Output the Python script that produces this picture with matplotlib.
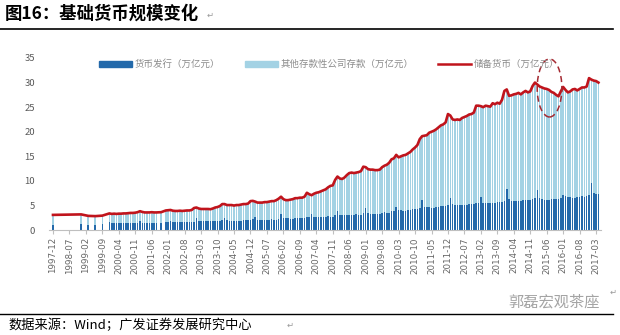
import numpy as np
import pandas as pd
import matplotlib
matplotlib.use("Agg")
import matplotlib.pyplot as plt
from matplotlib.patches import Patch, Ellipse
from matplotlib.lines import Line2D

plt.rcParams['font.family'] = ['Noto Sans CJK SC', 'DejaVu Sans']

nan = np.nan

# months 1997-12 .. 2017-04
months = pd.period_range("1997-12", "2017-04", freq="M")

# reserve money (万亿元), month by month; nan = no data that month
reserve = [3.1,
    # 1998
    nan, nan, nan, nan, nan, nan, nan, nan, nan, nan, nan, 3.2,
    # 1999
    nan, nan, 2.9, nan, nan, 2.85, nan, nan, 2.95, nan, nan, 3.4,
    # 2000
    3.3, 3.35, 3.3, 3.35, 3.35, 3.4, 3.4, 3.45, 3.5, 3.5, 3.55, 3.65,
    # 2001
    3.85, 3.7, 3.6, 3.6, 3.6, 3.65, 3.6, 3.6, nan, 3.65, nan, 4.0,
    # 2002
    4.05, 4.1, 3.95, 3.9, 3.9, 3.95, 3.9, 3.95, 4.0, 4.0, 4.1, 4.5,
    # 2003
    4.6, 4.4, 4.3, 4.3, 4.3, 4.3, 4.25, 4.4, 4.6, 4.7, 4.9, 5.3,
    # 2004
    5.3, 5.1, 5.1, 5.1, 5.0, 5.1, 5.1, 5.2, 5.3, 5.3, 5.4, 5.9,
    # 2005
    5.95, 5.8, 5.6, 5.6, 5.6, 5.7, 5.7, 5.8, 5.9, 5.9, 6.1, 6.4,
    # 2006
    6.8, 6.3, 6.1, 6.1, 6.2, 6.3, 6.5, 6.5, 6.6, 6.6, 6.8, 7.6,
    # 2007
    7.3, 7.1, 7.4, 7.6, 7.7, 7.9, 8.1, 8.3, 8.7, 9.0, 9.1, 10.2,
    # 2008
    10.9, 10.5, 10.4, 10.7, 11.2, 11.6, 11.7, 11.6, 11.7, 11.8, 12.0, 12.9,
    # 2009
    12.8, 12.4, 12.3, 12.3, 12.2, 12.2, 12.3, 12.8, 13.1, 13.3, 13.7, 14.4,
    # 2010
    14.6, 15.3, 14.8, 15.0, 15.2, 15.3, 15.6, 15.9, 16.4, 16.8, 17.3, 18.5,
    # 2011
    19.1, 19.2, 19.3, 19.8, 20.0, 20.2, 20.5, 20.9, 21.3, 21.5, 21.9, 23.6,
    # 2012
    23.3, 22.5, 22.4, 22.5, 22.4, 22.8, 23.0, 23.2, 23.5, 23.6, 23.9, 25.3,
    # 2013
    25.3, 25.2, 25.0, 25.3, 25.2, 25.1, 25.8, 25.6, 25.9, 25.7, 26.5, 28.3,
    # 2014
    28.6, 27.3, 27.4, 27.6, 27.7, 27.9, 27.6, 28.0, 28.3, 28.0, 28.2, 29.3,
    # 2015
    30.0, 29.6, 29.2, 29.0, 28.8, 28.7, 28.5, 28.1, 27.9, 27.5, 27.2, 28.2,
    # 2016
    29.1, 28.5, 28.0, 28.2, 28.6, 28.7, 28.4, 28.7, 29.0, 29.0, 29.2, 30.9,
    # 2017
    30.6, 30.4, 30.3, 30.0]

# currency issued (万亿元)
currency = [1.1,
    nan, nan, nan, nan, nan, nan, nan, nan, nan, nan, nan, 1.2,
    nan, nan, 1.1, nan, nan, 1.1, nan, nan, 1.2, nan, nan, 1.6,
    1.5, 1.45, 1.4, 1.4, 1.4, 1.4, 1.4, 1.4, 1.45, 1.45, 1.45, 1.5,
    1.8, 1.5, 1.45, 1.45, 1.45, 1.45, 1.45, 1.45, nan, 1.5, nan, 1.6,
    1.6, 1.9, 1.65, 1.6, 1.6, 1.6, 1.6, 1.6, 1.7, 1.65, 1.65, 1.75,
    2.4, 1.85, 1.8, 1.8, 1.8, 1.8, 1.8, 1.8, 1.9, 1.85, 1.85, 2.0,
    2.5, 2.0, 1.95, 1.95, 1.95, 1.95, 1.95, 1.95, 2.05, 2.0, 2.0, 2.15,
    2.2, 2.7, 2.1, 2.1, 2.05, 2.05, 2.1, 2.1, 2.2, 2.15, 2.15, 2.35,
    3.3, 2.45, 2.4, 2.4, 2.35, 2.35, 2.4, 2.4, 2.5, 2.5, 2.5, 2.7,
    2.6, 3.2, 2.65, 2.7, 2.6, 2.6, 2.65, 2.7, 2.8, 2.75, 2.75, 3.0,
    3.9, 3.15, 3.0, 3.05, 3.0, 3.0, 3.05, 3.1, 3.2, 3.15, 3.15, 3.4,
    4.6, 3.5, 3.35, 3.35, 3.3, 3.3, 3.35, 3.4, 3.6, 3.5, 3.55, 3.85,
    3.9, 4.75, 4.0, 4.0, 3.95, 3.95, 4.0, 4.1, 4.3, 4.2, 4.25, 4.5,
    6.1, 4.8, 4.65, 4.65, 4.6, 4.6, 4.65, 4.75, 4.9, 4.85, 4.9, 5.1,
    6.6, 5.3, 5.1, 5.1, 5.05, 5.05, 5.1, 5.2, 5.4, 5.3, 5.35, 5.6,
    5.5, 6.8, 5.6, 5.5, 5.45, 5.45, 5.5, 5.6, 5.8, 5.7, 5.75, 6.0,
    8.3, 6.3, 6.0, 6.0, 5.95, 5.95, 6.0, 6.05, 6.2, 6.15, 6.2, 6.4,
    6.5, 8.2, 6.5, 6.3, 6.2, 6.2, 6.2, 6.3, 6.4, 6.3, 6.35, 6.6,
    7.2, 7.0, 6.7, 6.65, 6.6, 6.6, 6.65, 6.7, 6.85, 6.8, 6.85, 7.2,
    9.6, 7.6, 7.4, 7.3]

labels = [p.strftime("%Y-%m") for p in months]
reserve = np.array(reserve)
currency = np.array(currency)
other = reserve - currency

dark = "#2369AA"
light = "#A3D2E4"
red = "#C0141C"

fig = plt.figure(figsize=(6.2, 3.35), dpi=100)
ax = fig.add_axes([0.079, 0.313, 0.890, 0.514])

x = np.arange(len(labels))
ax.bar(x, currency, width=0.68, color=dark, linewidth=0)
ax.bar(x, other, width=0.68, bottom=currency, color=light, linewidth=0)
ok = ~np.isnan(reserve)
ax.plot(x[ok], reserve[ok], color=red, lw=1.9, zorder=3)

# dashed circle around 2015
ax.add_patch(Ellipse((211.2, 28.9), 10.5, 11.8, fill=False, ls=(0, (4, 2.5)),
                     lw=1.1, ec="#A52A32", zorder=4))

ax.set_xlim(-1.7, 233)
ax.set_ylim(0, 35)
ax.set_yticks(range(0, 36, 5))
ax.set_xticks(x[::7])
ax.set_xticklabels(labels[::7], rotation=90, fontsize=6.3, color="#666666",
                   family="DejaVu Sans")
ax.tick_params(axis="y", length=0, labelsize=6.8, labelcolor="#595959", pad=10)
ax.tick_params(axis="x", length=3, color="#bfbfbf", pad=2)
for s in ["top", "right", "left"]:
    ax.spines[s].set_visible(False)
ax.spines["bottom"].set_color("#bfbfbf")

handles = [Patch(color=dark), Patch(color=light), Line2D([], [], color=red, lw=1.8)]
names = ["货币发行（万亿元）", "其他存款性公司存款（万亿元）", "储备货币（万亿元）"]
leg = ax.legend(handles, names, loc="upper left", bbox_to_anchor=(0.075, 1.04),
                ncol=3, frameon=False, fontsize=6.8, handlelength=3.5,
                handleheight=0.6, columnspacing=2.6, handletextpad=0.3)
for t in leg.get_texts():
    t.set_color("#8c8c8c")

# page furniture
fig.text(0.008, 0.958, "图16：基础货币规模变化", fontsize=12.5, fontweight="bold",
         va="center", ha="left")
fig.text(0.333, 0.955, "↵", fontsize=6, color="#999999", va="center",
         family="DejaVu Sans")
fig.add_artist(Line2D([0, 0.988], [0.912, 0.912], color="black", lw=1.2))
fig.add_artist(Line2D([0, 0.988], [0.064, 0.064], color="black", lw=1.0))
fig.text(0.013, 0.030, "数据来源：Wind；广发证券发展研究中心", fontsize=9.5,
         va="center", ha="left")
fig.text(0.462, 0.028, "↵", fontsize=6, color="#999999", va="center",
         family="DejaVu Sans")
fig.text(0.983, 0.128, "↵", fontsize=6, color="#999999", va="center",
         family="DejaVu Sans")
fig.text(0.968, 0.098, "郭磊宏观茶座", fontsize=11, color="#9a9a9a",
         va="center", ha="right", alpha=0.9)

fig.savefig("out.png", dpi=100)
